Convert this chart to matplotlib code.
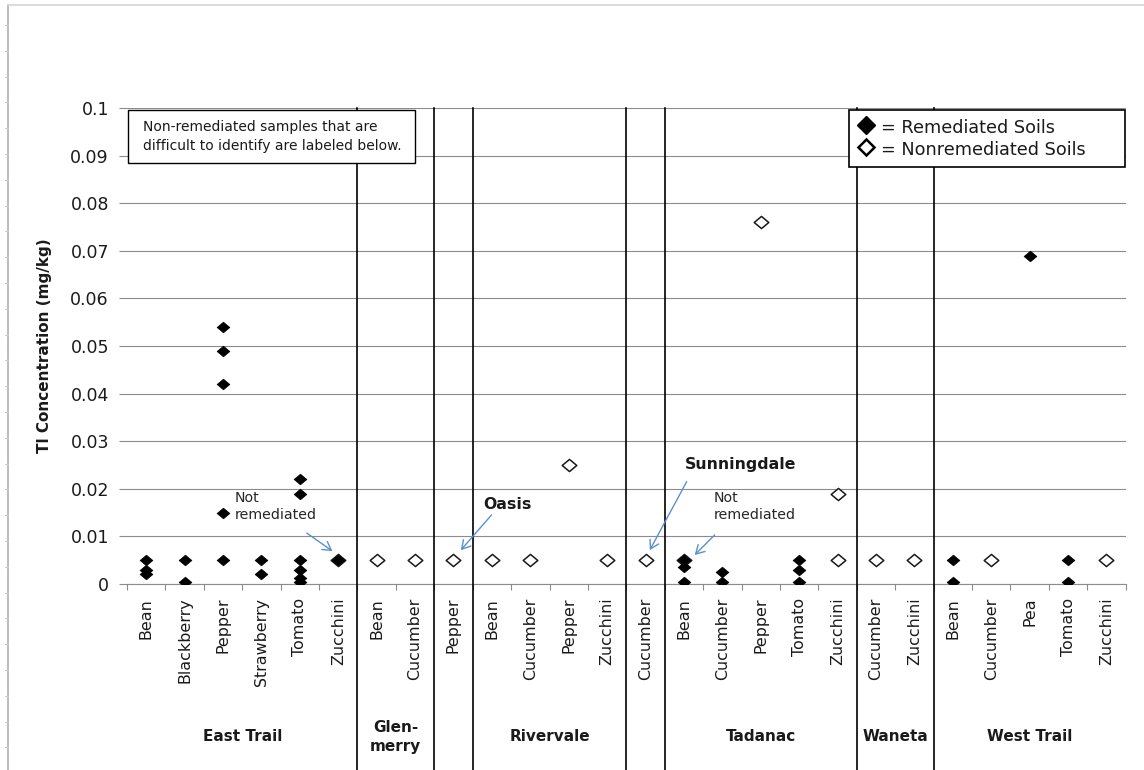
import numpy as np
import matplotlib.pyplot as plt
from matplotlib.path import Path
from matplotlib.lines import Line2D
from matplotlib.patches import Rectangle
from matplotlib.transforms import blended_transform_factory

plt.rcParams['font.family'] = ['DejaVu Sans']

# crops along the category axis, grouped by neighbourhood
crops = ["Bean", "Blackberry", "Pepper", "Strawberry", "Tomato", "Zucchini",
         "Bean", "Cucumber",
         "Pepper",
         "Bean", "Cucumber", "Pepper", "Zucchini",
         "Cucumber",
         "Bean", "Cucumber", "Pepper", "Tomato", "Zucchini",
         "Cucumber", "Zucchini",
         "Bean", "Cucumber", "Pea", "Tomato", "Zucchini"]
group_labels = ["East Trail", "Glen-\nmerry", "", "Rivervale", "", "Tadanac", "Waneta", "West Trail"]
group_sizes = [6, 2, 1, 4, 1, 5, 2, 5]

# Tl concentrations (mg/kg), one list per crop
remediated = [[0.005, 0.003, 0.002], [0.005, 0.0005],
              [0.054, 0.049, 0.042, 0.015, 0.005], [0.005, 0.002],
              [0.022, 0.019, 0.005, 0.003, 0.0013, 0.0005], [0.005],
              [], [],
              [],
              [], [], [], [],
              [],
              [0.005, 0.0036, 0.0005], [0.0026, 0.0005], [], [0.005, 0.003, 0.0005], [],
              [], [],
              [0.005, 0.0005], [], [0.069], [0.005, 0.0005], []]
nonremediated = [[], [], [], [], [], [0.005],
                 [0.005], [0.005],
                 [0.005],
                 [0.005], [0.005], [0.025], [0.005],
                 [0.005],
                 [0.005], [], [0.076], [], [0.019, 0.005],
                 [0.005], [0.005],
                 [], [0.005], [], [], [0.005]]

DIAMOND = Path([(0, 1), (1.2, 0), (0, -1), (-1.2, 0), (0, 1)],
               [Path.MOVETO, Path.LINETO, Path.LINETO, Path.LINETO, Path.CLOSEPOLY])
ARROW_BLUE = '#5b8fd2'
TEXT = '#1a1a1a'

fig = plt.figure(figsize=(11.44, 7.7), dpi=100)
ax = fig.add_axes([0.111, 0.2416, 0.873, 0.618])
n = len(crops)
x = np.arange(n)

for i, vals in enumerate(nonremediated):
    ax.plot([x[i]] * len(vals), vals, ls='none', marker=DIAMOND, ms=10.5,
            mfc='white', mec='#1a1a1a', mew=1.1, zorder=3)
for i, vals in enumerate(remediated):
    ax.plot([x[i]] * len(vals), vals, ls='none', marker=DIAMOND, ms=9.2,
            mfc='black', mec='black', mew=0.5, zorder=4)

ax.set_xlim(-0.5, n - 0.5)
ax.set_ylim(0, 0.1)
yt = np.round(np.arange(0, 0.101, 0.01), 2)
ax.set_yticks(yt)
ax.set_yticklabels([f"{v:g}" for v in yt], fontsize=12.5, color=TEXT)
ax.yaxis.grid(True, color='#8c8c8c', lw=0.8)
ax.set_axisbelow(True)
ax.tick_params(axis='y', length=6, width=0.8, color='#8c8c8c', pad=7)

ax.set_xticks(x)
ax.set_xticklabels(crops, rotation=90, fontsize=11.4, color=TEXT)
ax.set_xticks(np.arange(-0.5, n, 1), minor=True)
ax.tick_params(axis='x', which='major', length=0, pad=10)
ax.tick_params(axis='x', which='minor', length=4, width=0.8, color='#8c8c8c')

for side in ['top', 'right', 'left']:
    ax.spines[side].set_visible(False)
ax.spines['bottom'].set_color('#8c8c8c')
ax.spines['bottom'].set_linewidth(0.8)

ax.set_ylabel("Tl Concentration (mg/kg)", fontsize=11, fontweight='bold', color=TEXT)
ax.yaxis.set_label_coords(-0.075, 0.5)

# neighbourhood dividers run from the top of the plot to the bottom of the figure
mix = blended_transform_factory(ax.transData, fig.transFigure)
ax_top = ax.get_position().y1
starts = np.cumsum([0] + group_sizes[:-1])
for b in starts[1:] - 0.5:
    ax.plot([b, b], [ax_top, 0], transform=mix, color='black', lw=1.2,
            clip_on=False, zorder=3)
for s, size, label in zip(starts, group_sizes, group_labels):
    ax.text(s + size / 2 - 0.5, 0.043, label, transform=mix, ha='center',
            va='center', fontsize=11, fontweight='bold', linespacing=1.35, color=TEXT)

# note box at top left
ax.add_patch(Rectangle((0.001, 0.8845), 0.287, 0.111, transform=ax.transAxes,
                       fc='white', ec='black', lw=1.0, zorder=5, clip_on=False))
ax.text(0.016, 0.940, "Non-remediated samples that are\ndifficult to identify are labeled below.",
        transform=ax.transAxes, fontsize=10, va='center', ha='left',
        linespacing=1.45, color=TEXT, zorder=6)

# labels for hard-to-see non-remediated samples
arrow_kw = dict(arrowstyle='->,head_length=0.6,head_width=0.35', color=ARROW_BLUE,
                lw=1.0, shrinkA=0, shrinkB=0)
ax.text(2.31, 0.0196, "Not\nremediated", fontsize=10.2, color='#262626',
        va='top', ha='left', linespacing=1.3)
ax.annotate('', xy=(4.85, 0.0069), xytext=(4.18, 0.0107), arrowprops=arrow_kw)
ax.text(8.77, 0.0168, "Oasis", fontsize=11.3, fontweight='bold', va='center', ha='left',
        color=TEXT)
ax.annotate('', xy=(8.19, 0.0071), xytext=(8.99, 0.0145), arrowprops=arrow_kw)
ax.text(14.02, 0.0252, "Sunningdale", fontsize=11.3, fontweight='bold', va='center',
        ha='left', color=TEXT)
ax.annotate('', xy=(13.11, 0.0071), xytext=(14.07, 0.0215), arrowprops=arrow_kw)
ax.text(14.78, 0.0196, "Not\nremediated", fontsize=10.2, color='#262626',
        va='top', ha='left', linespacing=1.3)
ax.annotate('', xy=(14.28, 0.0061), xytext=(14.80, 0.0103), arrowprops=arrow_kw)

handles = [Line2D([], [], ls='none', marker='D', ms=9.5, mfc='black', mec='black'),
           Line2D([], [], ls='none', marker='D', ms=8.3, mfc='white', mec='black', mew=1.8)]
leg = ax.legend(handles, ["= Remediated Soils", "= Nonremediated Soils"],
                loc='upper left', bbox_to_anchor=(0.7227, 0.5, 0.2763, 0.4958),
                mode='expand', fontsize=12.7, fancybox=False, edgecolor='black',
                framealpha=1, handlelength=1.1, handleheight=1.4, handletextpad=0.35,
                borderpad=0.4, labelspacing=0.1, borderaxespad=0)
leg.get_frame().set_linewidth(1.2)
for t in leg.get_texts():
    t.set_color(TEXT)
leg.set_zorder(6)

# outer chart frame
fig.add_artist(Line2D([8 / 1144, 8 / 1144], [0, 1 - 5 / 770], transform=fig.transFigure,
                      color='#b0b0b0', lw=1.2))
fig.add_artist(Line2D([8 / 1144, 1], [1 - 5 / 770, 1 - 5 / 770], transform=fig.transFigure,
                      color='#d4d4d4', lw=1.2))
for ty in np.arange(25, 770, 25.8):
    fig.add_artist(Line2D([5 / 1144, 8 / 1144], [1 - ty / 770] * 2, transform=fig.transFigure,
                          color='#cccccc', lw=0.8))

fig.savefig("out.png", dpi=100, facecolor='white')
